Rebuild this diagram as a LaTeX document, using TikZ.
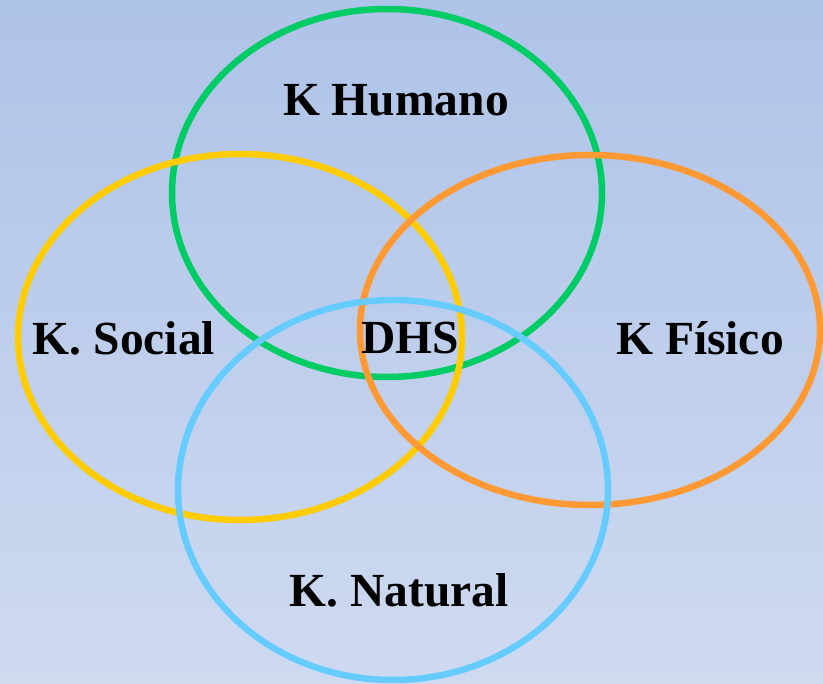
\documentclass[tikz,border=0pt]{standalone}
\usepackage{fontspec}
\setmainfont{Liberation Serif}
\definecolor{cgreen}{HTML}{00CC66}
\definecolor{cyellow}{HTML}{FFCC00}
\definecolor{corange}{HTML}{FF9933}
\definecolor{cblue}{HTML}{66CCFF}
\definecolor{bgtop}{HTML}{AEC3E8}
\definecolor{bgbot}{HTML}{CEDAF0}
\tikzset{
  ring/.style={line width=6.5pt},
  lbl/.style={font=\fontsize{47.5}{50}\selectfont\bfseries, inner sep=0pt}
}
\begin{document}
\begin{tikzpicture}[x=1pt,y=-1pt]
\shade[top color=bgtop, bottom color=bgbot] (0,0) rectangle (823,684);
\useasboundingbox (0,0) rectangle (823,684);
\draw[ring, cgreen] (387,193) ellipse [x radius=215, y radius=184];
\draw[ring, cyellow] (240,337) ellipse [x radius=222, y radius=183];
\draw[ring, corange] (590,330) ellipse [x radius=230, y radius=175];
\draw[ring, cblue] (393,490) ellipse [x radius=215, y radius=190];
\node[lbl] (hum) at (396,100) {K Humano};
\node[lbl] (soc) at (124,338) {K. Social};
\node[lbl] (dhs) at (410,338) {DHS};
\node[lbl] (fis) at (700,338) {K Físico};
\node[lbl] (nat) at (399,590) {K. Natural};
\end{tikzpicture}
\end{document}
